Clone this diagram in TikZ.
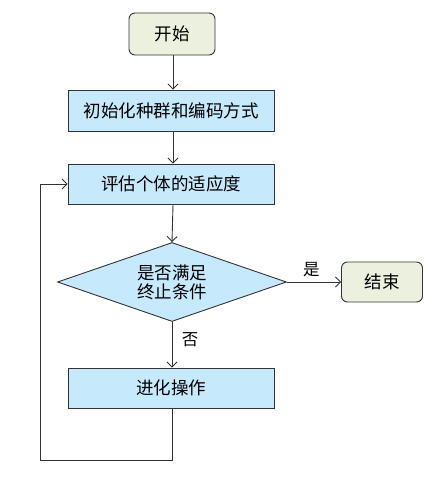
\documentclass[tikz,border=0pt]{standalone}
\usepackage{fontspec}
\newfontfamily\cjk{Noto Sans CJK SC}
\usetikzlibrary{shapes.geometric,arrows.meta}
\definecolor{termfill}{HTML}{EBF1DE}
\definecolor{boxfill}{HTML}{C6E9FB}
\definecolor{linec}{HTML}{333333}
\tikzset{
  base/.style={draw=linec, line width=0.9pt, font=\cjk\fontsize{17.5}{21}\selectfont, text=black, inner sep=0pt, align=center},
  term/.style={base, rounded corners=6pt, fill=termfill},
  proc/.style={base, fill=boxfill},
  dec/.style={base, diamond, fill=boxfill, aspect=2.9},
  conn/.style={draw=linec, line width=0.9pt, -{Straight Barb[length=5pt,width=10pt]}},
  lab/.style={font=\cjk\fontsize{16.5}{20}\selectfont, text=black}
}
\begin{document}
\begin{tikzpicture}[x=1pt,y=-1pt]
\useasboundingbox (0,0) rectangle (439,498);
\node[term, minimum width=86pt, minimum height=42pt] (start) at (172,34) {开始};
\node[proc, minimum width=206pt, minimum height=41pt] (init) at (171,110.5) {初始化种群和编码方式};
\node[proc, minimum width=206pt, minimum height=40pt] (eval) at (171,184) {评估个体的适应度};
\node[dec, minimum width=229pt, minimum height=79pt] (cond) at (172,282) {是否满足\\[-2pt]终止条件};
\node[term, minimum width=81pt, minimum height=40pt] (stop) at (382,282) {结束};
\node[proc, minimum width=206pt, minimum height=40pt] (evo) at (171,388) {进化操作};
\coordinate (c1) at (172,460);
\coordinate (c2) at (40,460);
\coordinate (c3) at (40,184);
\draw[conn] (start.south -| 173,0) -- (init.north -| 173,0);
\draw[conn] (init.south -| 173,0) -- (eval.north -| 173,0);
\draw[conn] (eval.south -| 173,0) -- (cond.north);
\draw[conn] (cond.east) -- node[lab, above, pos=0.45, yshift=1pt] {是} (stop.west);
\draw[conn] (cond.south) -- node[lab, right, pos=0.4, xshift=6pt] {否} (evo.north -| cond.south);
\draw[conn] (evo.south -| c1) -- (c1) -- (c2) -- (c3) -- (eval.west);
\end{tikzpicture}
\end{document}
